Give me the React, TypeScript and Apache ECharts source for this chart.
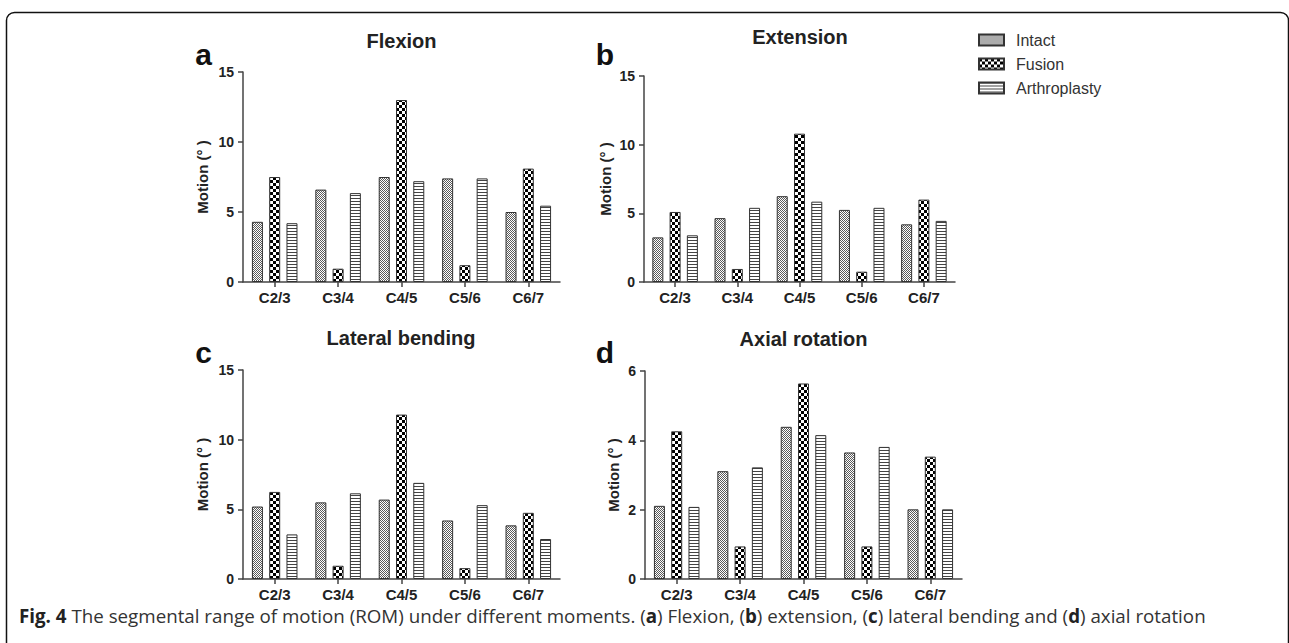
import React, { useEffect, useRef } from 'react';
import * as echarts from 'echarts';

// ---------- data ----------
const categories = ['C2/3', 'C3/4', 'C4/5', 'C5/6', 'C6/7'];
const seriesNames = ['Intact', 'Fusion', 'Arthroplasty'];

const flexionIntact = [4.3, 6.6, 7.5, 7.4, 5.0];
const flexionFusion = [7.5, 0.95, 13.0, 1.2, 8.1];
const flexionArthroplasty = [4.2, 6.35, 7.2, 7.4, 5.45];

const extensionIntact = [3.25, 4.65, 6.25, 5.25, 4.2];
const extensionFusion = [5.1, 0.95, 10.8, 0.75, 6.0];
const extensionArthroplasty = [3.4, 5.4, 5.85, 5.4, 4.45];

const lateralIntact = [5.2, 5.5, 5.7, 4.2, 3.85];
const lateralFusion = [6.25, 0.95, 11.8, 0.78, 4.75];
const lateralArthroplasty = [3.2, 6.15, 6.9, 5.3, 2.87];

const axialIntact = [2.11, 3.11, 4.39, 3.65, 2.01];
const axialFusion = [4.26, 0.94, 5.64, 0.94, 3.53];
const axialArthroplasty = [2.08, 3.22, 4.15, 3.81, 2.01];

const panelTitles = ['Flexion', 'Extension', 'Lateral bending', 'Axial rotation'];
const panelLetters = ['a', 'b', 'c', 'd'];
const yMaxes = [15, 15, 15, 6];
const yIntervals = [5, 5, 5, 2];
const yAxisName = 'Motion (° )';
const captionText =
  '{b|Fig. 4} The segmental range of motion (ROM) under different moments. ({b|a}) Flexion, ({b|b}) extension, ({b|c}) lateral bending and ({b|d}) axial rotation';

const panelData = [
  [flexionIntact, flexionFusion, flexionArthroplasty],
  [extensionIntact, extensionFusion, extensionArthroplasty],
  [lateralIntact, lateralFusion, lateralArthroplasty],
  [axialIntact, axialFusion, axialArthroplasty],
];

// ---------- layout ----------
const FONT = '"Liberation Sans", Arial, Helvetica, sans-serif';
const CAPTION_FONT = '"Open Sans", sans-serif';
const grids = [
  { left: 243, top: 72, width: 317, height: 210 },
  { left: 644, top: 76, width: 311, height: 206 },
  { left: 243, top: 370, width: 317, height: 209 },
  { left: 645, top: 371, width: 317, height: 208 },
];
const nameGaps = [33, 31, 33, 24];
const titlePos = [
  [401.5, 41.4],
  [800, 37.3],
  [401, 338],
  [803.5, 338.8],
];
const letterPos = [
  [203.5, 54.6],
  [605, 54.6],
  [203.5, 352.9],
  [605, 352.9],
];

function makePattern(kind: string) {
  const c = document.createElement('canvas');
  let w = 4;
  let h = 4;
  if (kind === 'fusion') { w = 6; h = 6; }
  if (kind === 'lines') { w = 4; h = 3; }
  c.width = w;
  c.height = h;
  const ctx = c.getContext('2d')!;
  ctx.fillStyle = '#ffffff';
  ctx.fillRect(0, 0, w, h);
  if (kind === 'intact') {
    ctx.fillStyle = '#5a5a5a';
    for (let y = 0; y < h; y++) {
      for (let x = 0; x < w; x++) {
        if ((x + y) % 2 === 0) ctx.fillRect(x, y, 1, 1);
      }
    }
  } else if (kind === 'fusion') {
    ctx.fillStyle = '#000000';
    ctx.fillRect(0, 0, 3, 3);
    ctx.fillRect(3, 3, 3, 3);
  } else {
    ctx.fillStyle = '#444444';
    ctx.fillRect(0, 0, w, 1);
  }
  return { image: c, repeat: 'repeat', imageWidth: w, imageHeight: h } as any;
}

export default function App() {
  const ref = useRef<HTMLDivElement>(null);

  useEffect(() => {
    if (!ref.current) return;
    const chart = echarts.init(ref.current, undefined, { renderer: 'svg' });
    const patterns = [makePattern('intact'), makePattern('fusion'), makePattern('lines')];

    const xAxis = grids.map((_, i) => ({
      type: 'category',
      gridIndex: i,
      data: categories,
      axisLine: { show: true, lineStyle: { color: '#444', width: 1.5 } },
      axisTick: { show: true, alignWithLabel: true, length: 5, lineStyle: { color: '#444', width: 1.5 } },
      axisLabel: { fontFamily: FONT, fontSize: 15, fontWeight: 'bold', color: '#222', margin: 8 },
      splitLine: { show: false },
    }));

    const yAxis = grids.map((_, i) => ({
      type: 'value',
      gridIndex: i,
      min: 0,
      max: yMaxes[i],
      interval: yIntervals[i],
      name: yAxisName,
      nameLocation: 'middle',
      nameRotate: 90,
      nameGap: nameGaps[i],
      nameTextStyle: { fontFamily: FONT, fontSize: 15, fontWeight: 'bold', color: '#222' },
      axisLine: { show: true, lineStyle: { color: '#444', width: 1.5 } },
      axisTick: { show: true, length: 5, lineStyle: { color: '#444', width: 1.5 } },
      axisLabel: { fontFamily: FONT, fontSize: 14, fontWeight: 'bold', color: '#222', margin: 9 },
      splitLine: { show: false },
    }));

    const series: any[] = [];
    panelData.forEach((panel, i) => {
      panel.forEach((values, s) => {
        series.push({
          type: 'bar',
          name: seriesNames[s],
          xAxisIndex: i,
          yAxisIndex: i,
          data: values,
          barWidth: 11,
          barGap: '57%',
          itemStyle: { color: patterns[s], borderColor: '#333', borderWidth: 1 },
          emphasis: { disabled: true },
        });
      });
    });

    const graphic: any[] = [
      {
        type: 'rect',
        silent: true,
        shape: { x: 6.5, y: 12.5, width: 1282, height: 700, r: 8 },
        style: { fill: 'none', stroke: '#111', lineWidth: 1.5 },
      },
    ];
    panelTitles.forEach((t, i) => {
      graphic.push({
        type: 'text',
        silent: true,
        x: titlePos[i][0],
        y: titlePos[i][1],
        style: {
          text: t,
          fontFamily: FONT,
          fontSize: 20,
          fontWeight: 'bold',
          fill: '#222',
          align: 'center',
          verticalAlign: 'middle',
        },
      });
    });
    panelLetters.forEach((t, i) => {
      graphic.push({
        type: 'text',
        silent: true,
        x: letterPos[i][0],
        y: letterPos[i][1],
        style: {
          text: t,
          fontFamily: FONT,
          fontSize: 30,
          fontWeight: 'bold',
          fill: '#111',
          align: 'center',
          verticalAlign: 'middle',
        },
      });
    });
    graphic.push({
      type: 'text',
      silent: true,
      x: 19,
      y: 615.5,
      style: {
        text: captionText,
        fontFamily: CAPTION_FONT,
        fontSize: 18.75,
        fill: '#333',
        align: 'left',
        verticalAlign: 'middle',
        rich: {
          b: { fontFamily: CAPTION_FONT, fontSize: 18.75, fontWeight: 'bold', fill: '#222' },
        },
      },
    });

    chart.setOption({
      animation: false,
      backgroundColor: '#ffffff',
      grid: grids.map((g) => ({ ...g, containLabel: false })),
      xAxis,
      yAxis,
      legend: {
        data: seriesNames,
        orient: 'vertical',
        left: 978,
        top: 32,
        padding: 0,
        itemWidth: 25,
        itemHeight: 11,
        itemGap: 8,
        icon: 'rect',
        selectedMode: false,
        textStyle: { fontFamily: FONT, fontSize: 16, color: '#333', padding: [0, 0, 0, 7] },
      },
      series,
      graphic,
    } as any);

    return () => {
      chart.dispose();
    };
  }, []);

  return (
    <div
      ref={ref}
      style={{ position: 'fixed', left: 0, top: 0, width: 1289, height: 643, background: '#fff' }}
    />
  );
}
